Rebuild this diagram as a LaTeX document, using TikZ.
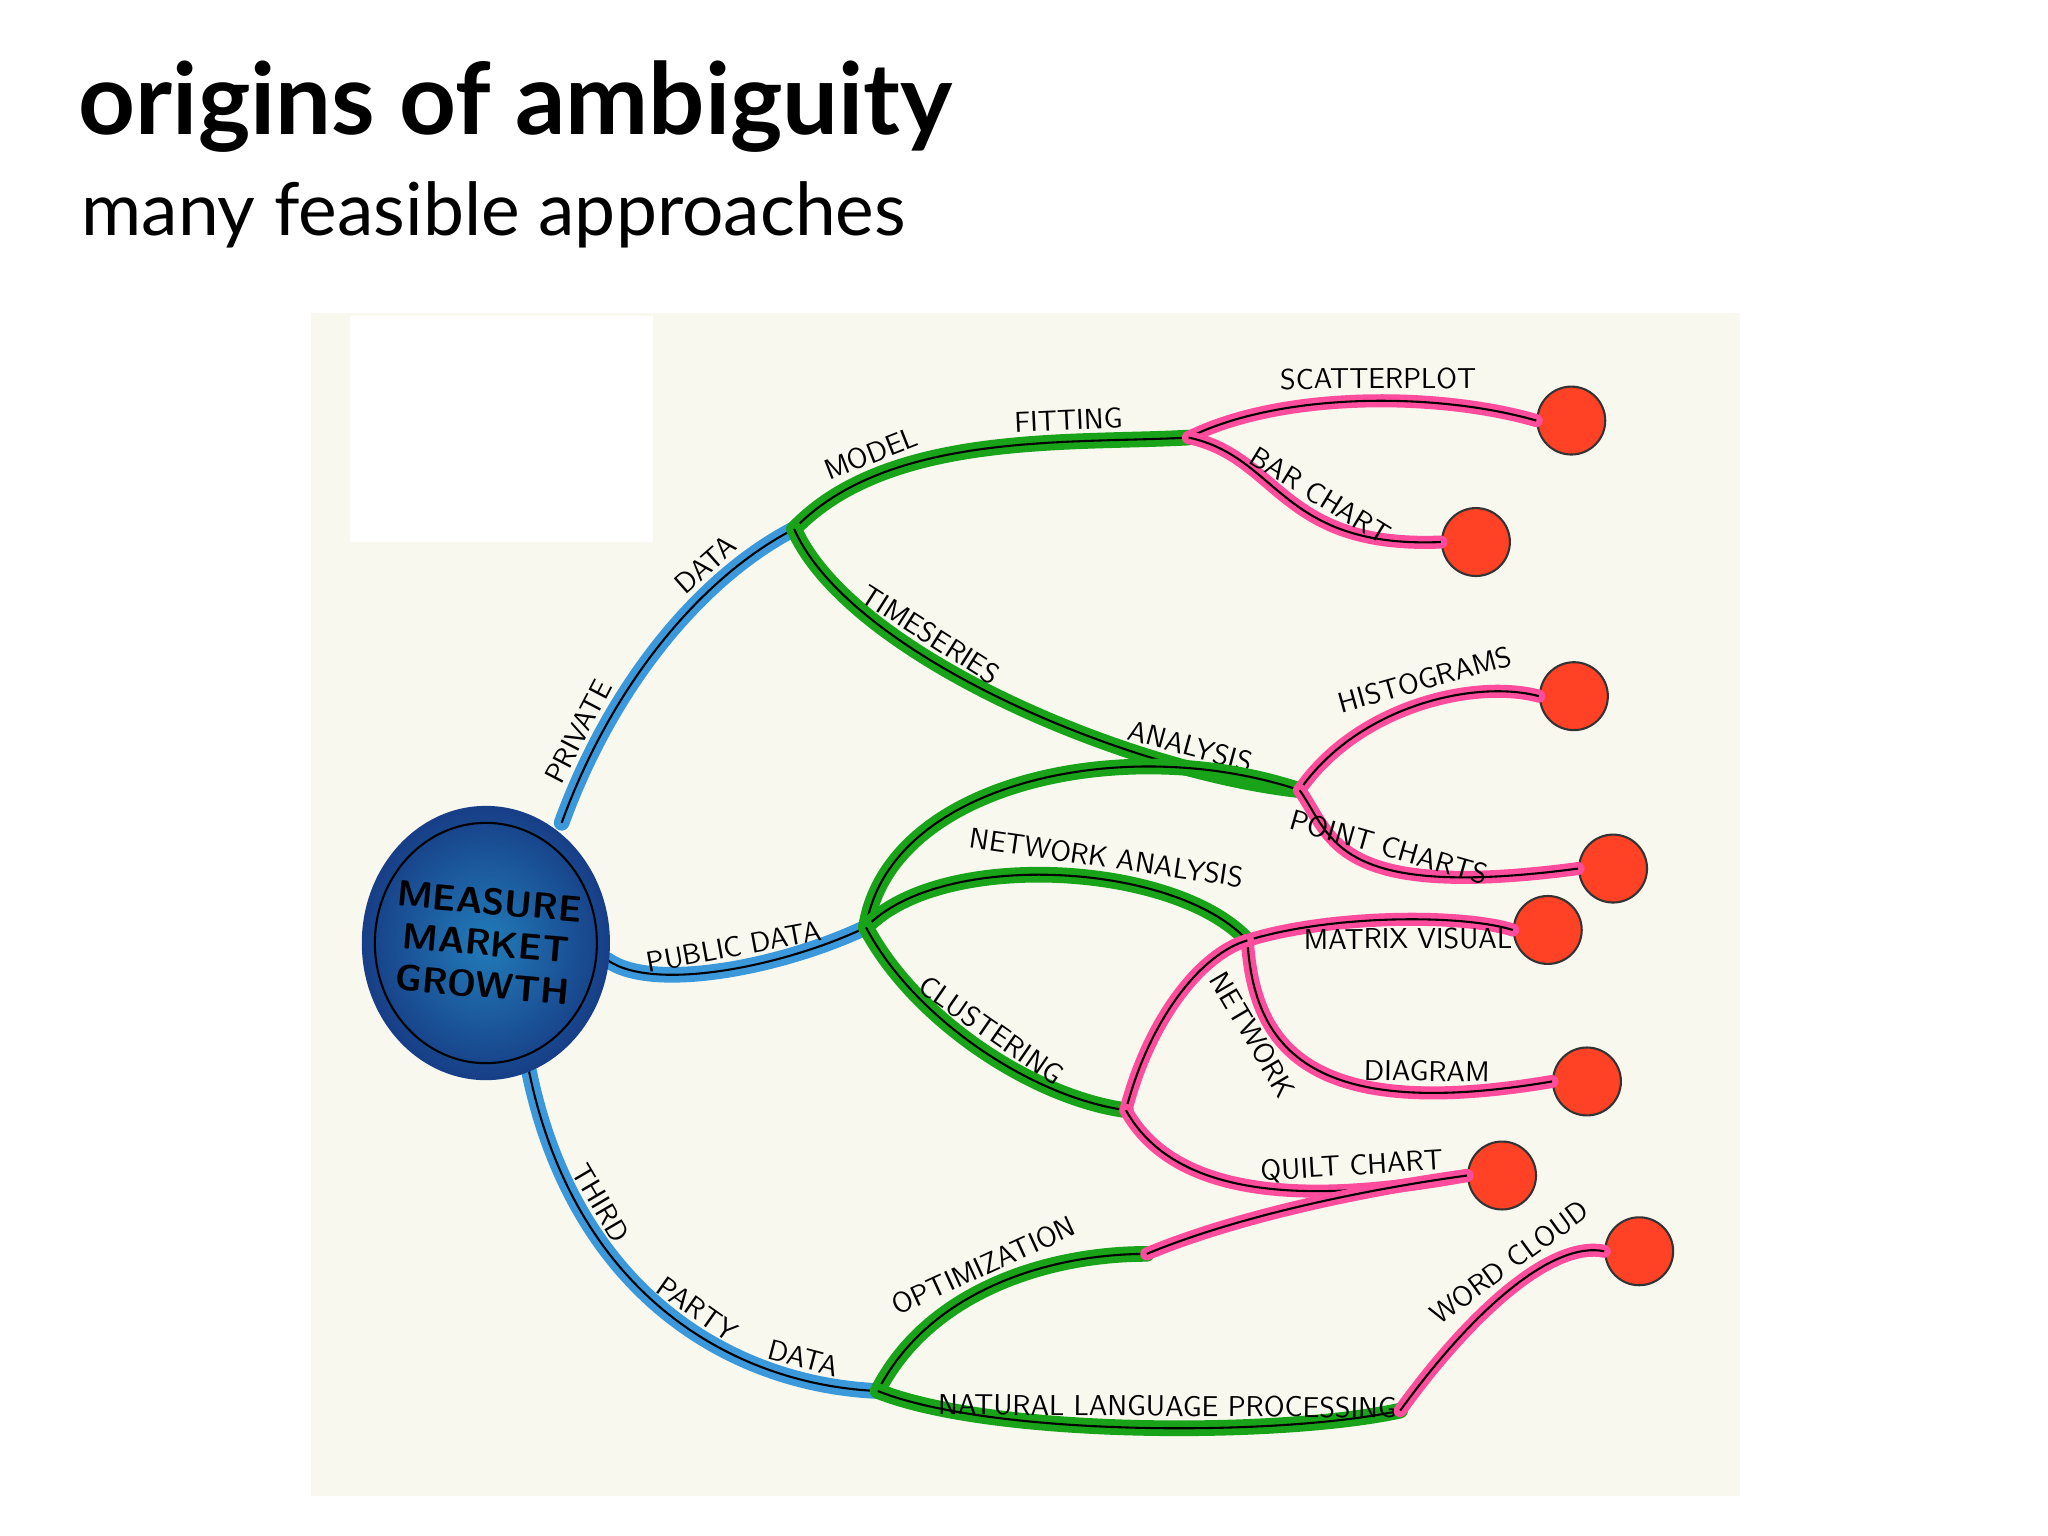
\documentclass[tikz,border=0pt]{standalone}
\usepackage{fontspec}
\setmainfont{Open Sans}
\newfontfamily\lato{Lato}
\definecolor{circblue}{HTML}{2A5BA8}
\definecolor{circdark}{HTML}{173E86}
\begin{document}
\begin{tikzpicture}[x=0.5pt,y=-0.5pt,
 bl/.style={line width=6pt,color=cyan!70!blue!80,line cap=round},
 gr/.style={line width=6pt,color=green!60!black!90,line cap=round},
 rd/.style={line width=5pt,color=red!55!magenta!70,line cap=round},
 ink/.style={line width=0.8pt,black},
 lab/.style={font=\sffamily\fontsize{11}{11}\selectfont,sloped,above,inner sep=4pt},
 dot/.style={circle,minimum size=26pt,fill=red!75!orange!85,draw=black!80,line width=0.8pt}]
\useasboundingbox (0,0) rectangle (1568,1176);
\fill[white] (0,0) rectangle (1568,1176);
\node[anchor=base west,inner sep=0pt,font=\lato\bfseries\fontsize{38}{38}\selectfont] (t) at (60,103) {origins of ambiguity};
\node[anchor=base west,inner sep=0pt,font=\lato\fontsize{28}{28}\selectfont] (s) at (62,180) {many feasible approaches};
\fill[yellow!4!white!97!black] (238,240) rectangle (1332,1145);
\fill[white] (268,242) rectangle (500,415);
\coordinate (c) at (372,722);
\coordinate (pr) at (608,405);
\coordinate (pu) at (663,710);
\coordinate (tp) at (672,1065);
\coordinate (mf) at (910,335);
\coordinate (ta) at (995,605);
\coordinate (na) at (955,720);
\coordinate (cl) at (862,850);
\coordinate (op) at (878,960);
\coordinate (nl) at (1072,1080);
\node[dot] (d1) at (1203,322) {};
\node[dot] (d2) at (1130,415) {};
\node[dot] (d3) at (1205,533) {};
\node[dot] (d4) at (1235,665) {};
\node[dot] (d5) at (1185,712) {};
\node[dot] (d6) at (1215,828) {};
\node[dot] (d7) at (1150,900) {};
\node[dot] (d8) at (1255,958) {};
% blue
\draw[bl] (430,630) .. controls (470,520) and (540,440) .. (pr);
\draw[ink] (430,630) .. controls (470,520) and (540,440) .. (pr) node[pos=0.2,lab] {PRIVATE} node[pos=0.72,lab] {DATA};
\draw[bl] (465,735) .. controls (500,760) and (600,740) .. (pu);
\draw[ink] (465,735) .. controls (500,760) and (600,740) .. (pu) node[pos=0.55,lab] {PUBLIC DATA};
\draw[bl] (405,820) .. controls (440,990) and (560,1060) .. (tp);
\draw[ink] (405,820) .. controls (440,990) and (560,1060) .. (tp) node[pos=0.25,lab] {THIRD} node[pos=0.55,lab] {PARTY} node[pos=0.82,lab] {DATA};
% center
\shade[inner color=circblue!80!cyan,outer color=circdark] (c) ellipse (95 and 105);
\draw[black,line width=0.8pt] (c) ellipse (85 and 92);
\node[align=center,font=\sffamily\bfseries\fontsize{14}{16}\selectfont,rotate=-5] (m) at (c) {MEASURE\\MARKET\\GROWTH};
% green
\draw[gr] (pr) .. controls (680,330) and (820,340) .. (mf);
\draw[ink] (pr) .. controls (680,330) and (820,340) .. (mf) node[pos=0.25,lab] {MODEL} node[pos=0.7,lab] {FITTING};
\draw[gr] (pr) .. controls (650,500) and (860,590) .. (ta);
\draw[ink] (pr) .. controls (650,500) and (860,590) .. (ta) node[pos=0.35,lab] {TIMESERIES} node[pos=0.8,lab] {ANALYSIS};
\draw[gr] (pu) .. controls (680,600) and (860,560) .. (ta);
\draw[ink] (pu) .. controls (680,600) and (860,560) .. (ta);
\draw[gr] (pu) .. controls (720,650) and (900,660) .. (na);
\draw[ink] (pu) .. controls (720,650) and (900,660) .. (na) node[pos=0.6,lab] {NETWORK ANALYSIS};
\draw[gr] (pu) .. controls (700,780) and (790,840) .. (cl);
\draw[ink] (pu) .. controls (700,780) and (790,840) .. (cl) node[pos=0.5,lab] {CLUSTERING};
\draw[gr] (tp) .. controls (710,990) and (800,960) .. (op);
\draw[ink] (tp) .. controls (710,990) and (800,960) .. (op) node[pos=0.5,lab] {OPTIMIZATION};
\draw[gr] (tp) .. controls (760,1100) and (980,1100) .. (nl);
\draw[ink] (tp) .. controls (760,1100) and (980,1100) .. (nl) node[pos=0.55,lab] {NATURAL LANGUAGE PROCESSING};
% red
\draw[rd] (mf) .. controls (980,300) and (1100,300) .. (d1.west);
\draw[ink] (mf) .. controls (980,300) and (1100,300) .. (d1.west) node[pos=0.55,lab] {SCATTERPLOT};
\draw[rd] (mf) .. controls (980,350) and (980,420) .. (d2.west);
\draw[ink] (mf) .. controls (980,350) and (980,420) .. (d2.west) node[pos=0.6,lab] {BAR CHART};
\draw[rd] (ta) .. controls (1040,540) and (1130,520) .. (d3.west);
\draw[ink] (ta) .. controls (1040,540) and (1130,520) .. (d3.west) node[pos=0.55,lab] {HISTOGRAMS};
\draw[rd] (ta) .. controls (1020,640) and (1020,690) .. (d4.west);
\draw[ink] (ta) .. controls (1020,640) and (1020,690) .. (d4.west) node[pos=0.6,lab] {POINT CHARTS};
\draw[rd] (na) .. controls (1020,700) and (1120,700) .. (d5.west);
\draw[ink] (na) .. controls (1020,700) and (1120,700) .. (d5.west) node[pos=0.55,font=\sffamily\fontsize{11}{11}\selectfont,sloped,below,inner sep=3pt] {MATRIX VISUAL};
\draw[rd] (na) .. controls (960,800) and (1000,860) .. (d6.west);
\draw[ink] (na) .. controls (960,800) and (1000,860) .. (d6.west) node[pos=0.3,font=\sffamily\fontsize{11}{11}\selectfont,sloped,below,inner sep=3pt] {NETWORK} node[pos=0.8,lab] {DIAGRAM};
\draw[rd] (cl) .. controls (880,780) and (920,730) .. (na);
\draw[ink] (cl) .. controls (880,780) and (920,730) .. (na);
\draw[rd] (cl) .. controls (890,900) and (960,930) .. (d7.west);
\draw[ink] (cl) .. controls (890,900) and (960,930) .. (d7.west) node[pos=0.8,lab] {QUILT CHART};
\draw[rd] (op) .. controls (950,930) and (1050,910) .. (d7.west);
\draw[ink] (op) .. controls (950,930) and (1050,910) .. (d7.west);
\draw[rd] (nl) .. controls (1130,1000) and (1190,950) .. (d8.west);
\draw[ink] (nl) .. controls (1130,1000) and (1190,950) .. (d8.west) node[pos=0.55,lab] {WORD CLOUD};
\end{tikzpicture}
\end{document}
